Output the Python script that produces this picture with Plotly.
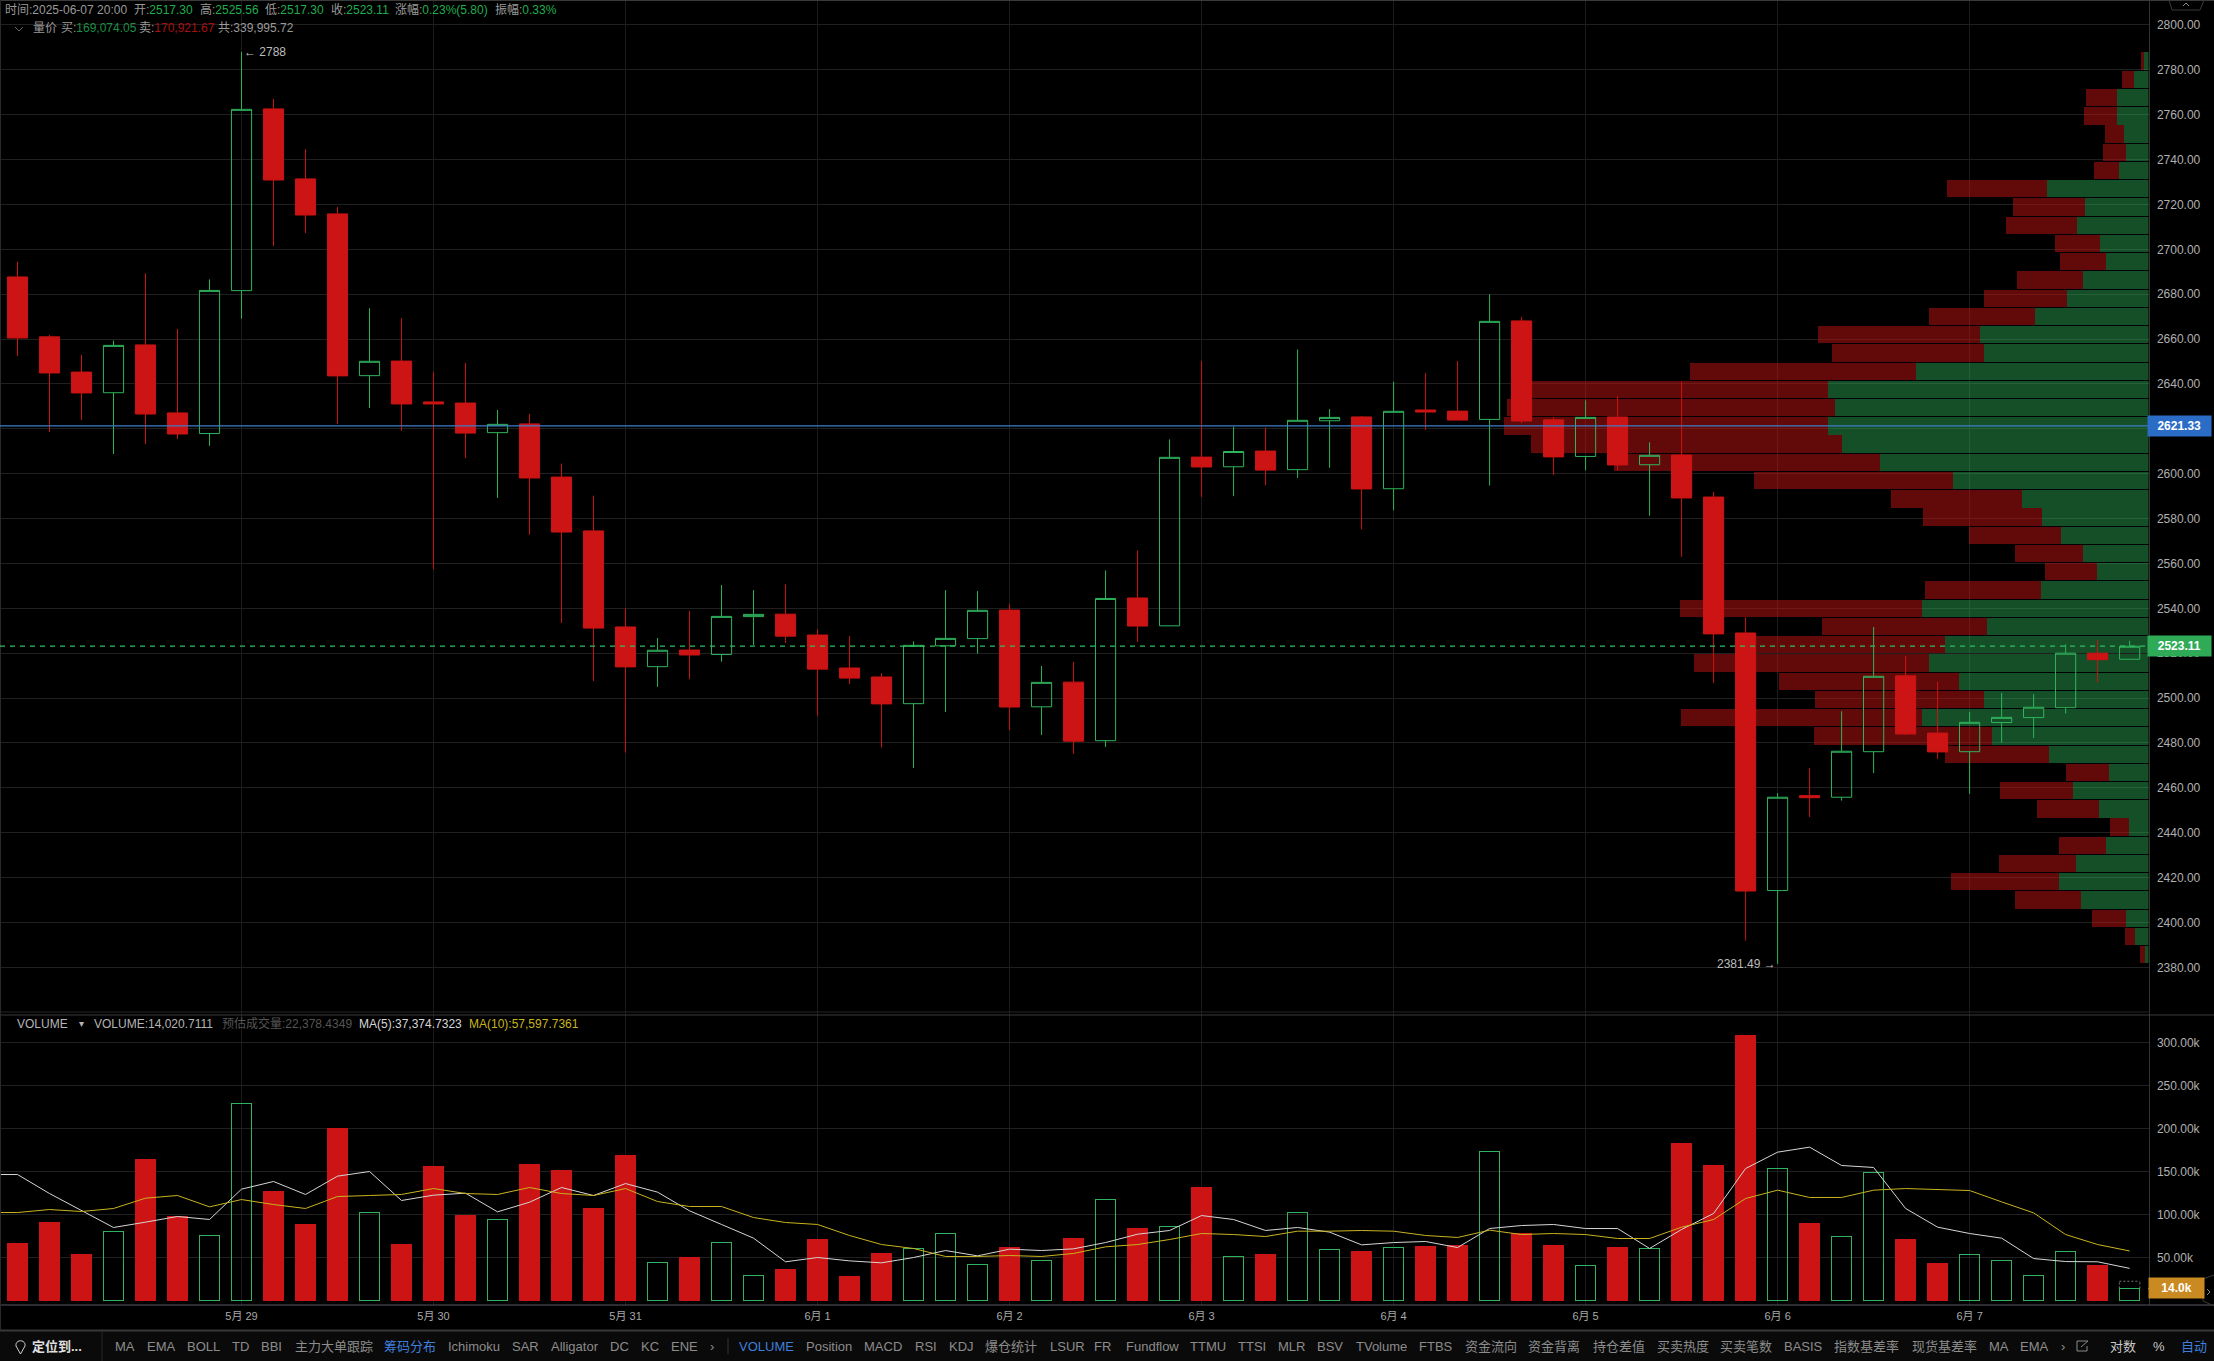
import plotly.graph_objects as go

W, H = 2214, 1361
FONT = "Liberation Sans, Arial, Noto Sans CJK SC, sans-serif"
UP, DOWN = "#2fb35c", "#cc1414"

OPEN = [2687.7,2661.0,2645.3,2636.1,2657.4,2627.1,2617.9,2681.6,2762.6,2731.4,2715.8,2643.7,2650.2,2632.0,2631.5,2618.3,2622.2,2598.5,2574.5,2531.7,2514.0,2521.4,2519.4,2536.3,2537.4,2528.1,2513.4,2509.4,2497.5,2523.3,2526.5,2539.2,2496.1,2507.1,2481.0,2544.6,2532.2,2607.4,2603.1,2610.1,2601.8,2623.6,2625.3,2593.3,2628.4,2627.9,2624.2,2668.1,2624.0,2607.7,2625.3,2604.0,2608.3,2589.6,2529.0,2414.2,2456.5,2455.8,2476.1,2509.9,2484.4,2476.1,2489.1,2491.3,2495.7,2520.0,2517.3]
HIGH = [2694.5,2661.8,2652.9,2659.3,2689.3,2664.5,2686.6,2788.0,2767.0,2744.6,2718.9,2673.7,2669.3,2645.3,2649.3,2628.4,2626.6,2604.5,2590.2,2540.0,2526.8,2538.8,2550.4,2548.1,2550.7,2530.6,2527.6,2511.1,2525.3,2548.1,2547.7,2541.9,2514.3,2516.1,2556.9,2565.8,2615.3,2650.2,2620.9,2620.5,2655.4,2628.8,2625.7,2641.0,2644.9,2650.2,2680.0,2669.9,2625.3,2632.7,2634.5,2614.0,2641.0,2591.9,2536.0,2457.6,2468.8,2494.1,2531.7,2518.8,2507.3,2493.8,2502.3,2501.7,2524.0,2525.9,2525.56]
LOW = [2652.5,2618.6,2624.0,2608.8,2613.2,2615.5,2612.4,2669.1,2701.5,2707.3,2622.2,2629.3,2619.2,2557.4,2607.0,2589.2,2572.8,2533.5,2507.6,2475.7,2505.0,2508.4,2516.2,2523.6,2524.5,2492.1,2506.2,2478.0,2468.8,2493.8,2519.8,2485.7,2483.5,2475.2,2478.2,2525.0,2532.2,2589.6,2590.0,2594.9,2598.1,2602.7,2575.2,2583.7,2619.5,2623.9,2594.7,2622.5,2599.4,2601.5,2601.4,2581.3,2563.0,2506.7,2391.9,2381.49,2447.0,2454.3,2466.6,2483.6,2472.9,2457.3,2480.1,2482.2,2493.1,2506.9,2517.3]
CLOSE = [2660.5,2644.9,2636.0,2657.2,2626.6,2617.7,2681.7,2762.4,2730.9,2715.3,2643.6,2650.1,2631.1,2631.1,2618.1,2622.0,2598.1,2574.0,2531.2,2513.9,2521.3,2519.2,2536.4,2537.3,2527.6,2512.9,2508.9,2497.4,2523.5,2526.6,2539.1,2496.0,2507.0,2480.8,2544.4,2532.1,2607.3,2603.0,2609.9,2601.6,2623.8,2625.1,2593.2,2627.8,2627.5,2623.9,2667.9,2623.5,2607.5,2625.1,2603.9,2608.2,2589.2,2528.6,2414.0,2455.8,2455.6,2476.3,2509.7,2484.0,2476.0,2489.2,2491.4,2495.9,2520.0,2517.1,2523.11]
VOLUME_K = [66.7,91.1,53.9,80.2,164.3,98.1,75.6,229.1,127.1,88.8,200.4,102.3,65.5,156.2,99.2,94.2,158.5,151.5,107.4,169.0,44.2,50.4,67.4,29.1,36.4,71.3,28.3,55.0,60.5,77.9,41.9,62.0,46.5,72.5,117.4,84.1,86.0,131.8,51.2,53.9,102.3,59.3,57.4,61.6,63.2,64.0,173.3,77.9,64.3,40.7,62.0,60.5,182.9,157.4,308.5,153.5,89.9,74.4,148.8,71.3,43.4,53.5,46.5,29.1,57.0,41.1,14.02]
PREDICTED_K = 22.38
MA5_K = [146.5,146.5,124.4,105.0,84.9,91.1,97.7,94.2,129.5,138.4,123.3,144.6,150.0,116.3,122.5,124.8,103.1,114.3,131.4,122.1,136.0,126.0,104.3,88.4,72.5,45.0,50.0,46.1,43.8,50.0,58.1,51.9,59.7,58.1,60.1,67.4,77.1,81.4,98.8,94.2,81.4,84.9,79.5,64.7,67.4,68.6,61.6,83.7,87.2,88.4,83.7,83.7,60.5,82.6,101.2,153.5,172.5,178.3,157.0,154.7,107.0,85.3,77.9,72.5,48.8,45.3,45.0,37.37]
MA10_K = [102.3,102.3,105.8,103.5,107.0,119.0,122.1,108.9,117.4,111.6,107.0,120.9,122.1,123.3,130.2,124.4,123.3,131.4,124.4,122.1,130.2,115.1,109.3,109.3,96.5,90.7,88.4,75.6,65.1,60.5,51.2,51.2,52.3,51.2,54.7,62.4,65.1,70.9,77.9,76.7,74.4,80.6,80.6,81.4,80.6,75.6,73.3,81.8,76.7,77.9,76.7,72.1,72.1,85.3,94.2,118.6,128.3,119.8,119.8,128.3,130.2,129.1,127.9,114.7,101.9,76.7,65.1,57.6]

PROFILE_PRICE = [2783.9,2775.8,2767.6,2759.5,2751.4,2743.2,2735.1,2727.0,2718.9,2710.7,2702.6,2694.5,2686.3,2678.2,2670.1,2662.0,2653.8,2645.7,2637.6,2629.4,2621.3,2613.2,2605.1,2596.9,2588.8,2580.7,2572.5,2564.4,2556.3,2548.2,2540.0,2531.9,2523.8,2515.6,2507.5,2499.4,2491.3,2483.1,2475.0,2466.9,2458.7,2450.6,2442.5,2434.4,2426.2,2418.1,2410.0,2401.8,2393.7,2385.6]
PROFILE_BUY = [4.7,14.5,31.4,31.4,24.3,22.5,29.5,101.6,63.7,71.6,48.7,42.6,65.5,81.5,113.3,168.5,164.3,232.7,320.7,313.7,320.7,306.7,268.7,195.7,126.4,106.3,87.6,65.5,51.5,107.7,226.6,161.5,203.7,219.6,189.6,164.3,226.6,156.4,99.3,39.3,75.4,49.6,19.7,42.6,72.6,89.4,67.4,22.5,13.6,3.3]
PROFILE_SELL = [2.8,12.2,30.9,33.2,19.2,22.9,24.8,99.7,71.6,70.7,44.9,45.9,66.0,82.9,106.3,162.0,152.2,225.7,312.8,327.7,324.0,310.9,265.9,199.0,131.1,119.4,91.8,67.9,52.0,115.6,242.1,164.8,195.7,235.0,179.8,169.0,241.1,177.9,104.4,43.1,73.0,61.8,18.7,46.8,76.8,108.2,66.0,34.2,9.8,5.2]

PRICE_TICKS = [2380,2400,2420,2440,2460,2480,2500,2520,2540,2560,2580,2600,2620,2640,2660,2680,2700,2720,2740,2760,2780,2800]
VOLUME_TICKS = [50,100,150,200,250,300]
VOLUME_TICK_TEXT = ["50.00k","100.00k","150.00k","200.00k","250.00k","300.00k"]
DATE_TICKS = [7,13,19,25,31,37,43,49,55,61]
DATE_LABELS = ["5月 29","5月 30","5月 31","6月 1","6月 2","6月 3","6月 4","6月 5","6月 6","6月 7"]
LAST_PRICE, MARK_PRICE, LAST_VOL = 2523.11, 2621.33, 14.02

INDEX = list(range(len(OPEN)))
MA_INDEX = [-1] + INDEX

AXIS_R = 2148.5
PX = lambda v: v / W
PY = lambda v: 1 - v / H
dom_x = [0, PX(AXIS_R)]
XR = [-0.547, 66.59]

fig = go.Figure()
fig.add_trace(go.Bar(y=PROFILE_PRICE, x=PROFILE_BUY, orientation="h", width=7.72, xaxis="x", yaxis="y",
                     marker=dict(color="rgba(47,179,92,0.44)", line_width=0), hoverinfo="skip"))
fig.add_trace(go.Bar(y=PROFILE_PRICE, x=PROFILE_SELL, orientation="h", width=7.72, xaxis="x", yaxis="y",
                     marker=dict(color="rgba(204,20,20,0.48)", line_width=0), hoverinfo="skip"))
fig.add_trace(go.Candlestick(x=INDEX, open=OPEN, high=HIGH, low=LOW, close=CLOSE, xaxis="x2", yaxis="y",
                             increasing=dict(line=dict(color=UP, width=1), fillcolor="rgba(0,0,0,0)"),
                             decreasing=dict(line=dict(color=DOWN, width=1), fillcolor=DOWN)))
is_up = [c >= o for o, c in zip(OPEN, CLOSE)]
fig.add_trace(go.Bar(x=INDEX, y=VOLUME_K, width=0.63, xaxis="x3", yaxis="y2",
                     marker=dict(color=["rgba(0,0,0,0)" if u else DOWN for u in is_up],
                                 line=dict(color=[UP if u else DOWN for u in is_up], width=1))))
fig.add_trace(go.Scatter(x=MA_INDEX, y=MA5_K, mode="lines", xaxis="x3", yaxis="y2", line=dict(color="#d6d6d6", width=1)))
fig.add_trace(go.Scatter(x=MA_INDEX, y=MA10_K, mode="lines", xaxis="x3", yaxis="y2", line=dict(color="#c9b41e", width=1)))

GRID = "#202020"
VGRID = "#1b1b1b"
tick_font = dict(family=FONT, size=12, color="#b0b0b0")
date_font = dict(family=FONT, size=11, color="#a8a8a8")
layout_axes = dict(
    xaxis=dict(domain=dom_x, range=[AXIS_R, 0], anchor="y", visible=False, fixedrange=True, rangeslider=dict(visible=False)),
    xaxis2=dict(domain=dom_x, range=XR, overlaying="x", anchor="y", tickmode="array", tickvals=DATE_TICKS,
                ticktext=[""] * len(DATE_TICKS), showgrid=True, gridcolor=VGRID, gridwidth=1, zeroline=False,
                showline=False, ticks="", rangeslider=dict(visible=False)),
    xaxis3=dict(domain=dom_x, range=XR, anchor="y2", tickmode="array", tickvals=DATE_TICKS, ticktext=DATE_LABELS,
                showgrid=True, gridcolor=VGRID, gridwidth=1, zeroline=False, showline=False,
                ticks="outside", ticklen=1, tickcolor="rgba(0,0,0,0)", tickfont=date_font),
    yaxis=dict(domain=[PY(1015), 1], range=[2358.74, 2811.14], anchor="x", side="right", tickmode="array",
               tickvals=PRICE_TICKS, ticktext=[f"{v}.00" for v in PRICE_TICKS], showgrid=True, gridcolor=GRID,
               zeroline=False, showline=True, linecolor="#333333", ticks="outside", ticklen=5,
               tickcolor="rgba(0,0,0,0)", tickfont=tick_font),
    yaxis2=dict(domain=[PY(1305), PY(1015)], range=[-5.23, 332], anchor="x3", side="right", tickmode="array",
                tickvals=VOLUME_TICKS, ticktext=VOLUME_TICK_TEXT, showgrid=True, gridcolor=GRID, zeroline=False,
                showline=True, linecolor="#333333", ticks="outside", ticklen=5, tickcolor="rgba(0,0,0,0)",
                tickfont=tick_font),
)

def hline(y, x0=0, x1=W, color="#333", width=1):
    return dict(type="line", xref="paper", yref="paper", x0=PX(x0), x1=PX(x1), y0=PY(y), y1=PY(y),
                line=dict(color=color, width=width), layer="above")

shapes = [
    dict(type="rect", xref="paper", yref="paper", x0=0, x1=1, y0=0, y1=PY(1331), fillcolor="#0a0a0a", line_width=0, layer="above"),
    hline(1330.5, color="#383838", width=2),
    hline(0.5, color="#3a3a3a", width=1),
    hline(1012, x1=AXIS_R, color="#242424"),
    hline(1015, color="#3a3a3a"),
    hline(1305, x1=W, color="#565660"),
    dict(type="line", xref="paper", yref="paper", x0=PX(0.5), x1=PX(0.5), y0=PY(1330), y1=1, line=dict(color="#2a2a2a", width=1), layer="above"),
    dict(type="line", xref="paper", yref="paper", x0=PX(102), x1=PX(102), y0=PY(1331), y1=0, line=dict(color="#262626", width=1), layer="above"),
    dict(type="line", xref="paper", yref="paper", x0=PX(728), x1=PX(728), y0=PY(1338), y1=PY(1354), line=dict(color="#333333", width=1), layer="above"),
    # price lines
    dict(type="line", xref="paper", yref="y", x0=0, x1=PX(AXIS_R), y0=MARK_PRICE, y1=MARK_PRICE, line=dict(color="#3f7cc8", width=1.2), layer="above"),
    dict(type="line", xref="paper", yref="y", x0=0, x1=PX(AXIS_R), y0=LAST_PRICE, y1=LAST_PRICE, line=dict(color="#2fbf60", width=1.2, dash="5px,5px"), layer="above"),
    # predicted volume outline (top edge of estimate)
    dict(type="line", xref="x3", yref="y2", x0=INDEX[-1] - 0.32, x1=INDEX[-1] + 0.32, y0=PREDICTED_K, y1=PREDICTED_K,
         line=dict(color="#777777", width=1, dash="2px,2px"), layer="above"),
    dict(type="line", xref="x3", yref="y2", x0=INDEX[-1] - 0.32, x1=INDEX[-1] - 0.32, y0=VOLUME_K[-1], y1=PREDICTED_K,
         line=dict(color="#777777", width=1, dash="2px,2px"), layer="above"),
    dict(type="line", xref="x3", yref="y2", x0=INDEX[-1] + 0.32, x1=INDEX[-1] + 0.32, y0=VOLUME_K[-1], y1=PREDICTED_K,
         line=dict(color="#777777", width=1, dash="2px,2px"), layer="above"),
    # top tab and chevrons
    dict(type="path", xref="paper", yref="paper", line=dict(color="#3a3a3a", width=1),
         path=f"M {PX(2169)} {PY(0)} L {PX(2172)} {PY(10)} L {PX(2200)} {PY(10)} L {PX(2204)} {PY(0)}"),
    dict(type="path", xref="paper", yref="paper", line=dict(color="#8a8a8a", width=1),
         path=f"M {PX(2183)} {PY(6)} L {PX(2186)} {PY(3)} L {PX(2189)} {PY(6)}"),
    dict(type="path", xref="paper", yref="paper", line=dict(color="#666666", width=1),
         path=f"M {PX(15)} {PY(27)} L {PX(19)} {PY(31)} L {PX(23)} {PY(27)}"),
    # right notch on the volume pane
    dict(type="path", xref="paper", yref="paper", line=dict(color="#3a3a3a", width=1), layer="above",
         path=f"M {PX(2214)} {PY(1275)} L {PX(2203)} {PY(1279)} L {PX(2203)} {PY(1301)} L {PX(2214)} {PY(1306)}"),
    dict(type="path", xref="paper", yref="paper", line=dict(color="#8a8a8a", width=1), layer="above",
         path=f"M {PX(2207)} {PY(1289)} L {PX(2210)} {PY(1292)} L {PX(2207)} {PY(1295)}"),
    # edit icon in toolbar
    dict(type="path", xref="paper", yref="paper", line=dict(color="#8a8a8a", width=1), layer="above",
         path=f"M {PX(2088)} {PY(1341)} L {PX(2077)} {PY(1341)} L {PX(2077)} {PY(1351)} L {PX(2087)} {PY(1351)} L {PX(2087)} {PY(1346)} M {PX(2081)} {PY(1347)} L {PX(2088)} {PY(1341)}"),
    # locate pin
    dict(type="path", xref="paper", yref="paper", line=dict(color="#d0d0d0", width=1), layer="above",
         path=f"M {PX(20.5)} {PY(1354)} L {PX(16)} {PY(1346)} C {PX(15)} {PY(1339)} {PX(26)} {PY(1339)} {PX(25)} {PY(1346)} Z"),
]

ann = []
def label(x, y, text, color="#9a9a9a", size=12, anchor="left", **kw):
    ann.append(dict(xref="paper", yref="paper", x=PX(x - 1), y=PY(y), text=text, showarrow=False, xanchor=anchor,
                    yanchor="middle", borderpad=0, font=dict(family=FONT, size=size, color=color), **kw))

G = "#1fae4e"
def kv(k, v, c=G):
    return f'{k}<span style="color:{c}">{v}</span>'

label(5, 10, "时间:2025-06-07 20:00")
label(134, 10, kv("开:", "2517.30"))
label(199.5, 10, kv("高:", "2525.56"))
label(265, 10, kv("低:", "2517.30"))
label(331, 10, kv("收:", "2523.11"))
label(395, 10, kv("涨幅:", "0.23%(5.80)"))
label(495, 10, kv("振幅:", "0.33%"))
label(33, 28, "量价")
label(60.5, 28, kv("买:", "169,074.05", "#1d8f45"))
label(139, 28, kv("卖:", "170,921.67", "#a81010"))
label(218, 28, "共:339,995.72")

label(17, 1024, "VOLUME", "#b5b5b5")
label(79, 1024, "▾", "#b5b5b5", 10)
label(94, 1024, "VOLUME:14,020.7111", "#b5b5b5")
label(221.5, 1024, "预估成交量:22,378.4349", "#555555")
label(358.5, 1024, "MA(5):37,374.7323", "#d6d6d6")
label(468.5, 1024, "MA(10):57,597.7361", "#c9b41e")

ann.append(dict(xref="x2", yref="y", x=7, y=HIGH[7], text="← 2788", showarrow=False, xanchor="left", xshift=0,
                font=dict(family=FONT, size=12, color="#bdbdbd")))
ann.append(dict(xref="x2", yref="y", x=55, y=LOW[55], text="2381.49 →", showarrow=False, xanchor="right", xshift=0,
                font=dict(family=FONT, size=12, color="#bdbdbd")))

def tag(y, yref, text, color, x0, wid):
    ann.append(dict(xref="paper", yref=yref, x=PX(x0 + wid / 2), y=y, text=f"<b>{text}</b>", showarrow=False, xanchor="center",
                    yanchor="middle", width=wid, height=20, bgcolor=color, borderpad=0,
                    font=dict(family=FONT, size=12, color="#ffffff")))
    shapes.append(dict(type="line", xref="paper", yref=yref, x0=PX(x0), x1=PX(x0 + 5), y0=y, y1=y,
                       line=dict(color="#ffffff", width=1), layer="above"))

tag(LAST_PRICE, "y", "2523.11", "#2fab57", AXIS_R, 62.5)
tag(MARK_PRICE, "y", "2621.33", "#2a6cc6", AXIS_R, 62.5)
tag(LAST_VOL, "y2", "14.0k", "#c98a22", AXIS_R, 55)

TOOLBAR = [("MA",115),("EMA",146.6),("BOLL",186.6),("TD",232),("BBI",261),("主力大单跟踪",294.6),("筹码分布",384.4),
           ("Ichimoku",448),("SAR",512),("Alligator",550.7),("DC",610),("KC",640.5),("ENE",670.6),("›",710),
           ("VOLUME",739.4),("Position",806),("MACD",864),("RSI",914.8),("KDJ",949),("爆仓统计",985),("LSUR",1049.5),
           ("FR",1094),("Fundflow",1125.6),("TTMU",1190),("TTSI",1238),("MLR",1278),("BSV",1317),("TVolume",1356),
           ("FTBS",1419),("资金流向",1464.5),("资金背离",1528),("持仓差值",1593),("买卖热度",1657),("买卖笔数",1720),
           ("BASIS",1784),("指数基差率",1834),("现货基差率",1912),("MA",1989),("EMA",2020),("›",2060.6),("对数",2110),
           ("%",2153),("自动",2180.6)]
BLUE_ITEMS = {"筹码分布", "VOLUME", "自动"}
for t, x in TOOLBAR:
    c = "#3f7fdc" if t in BLUE_ITEMS else ("#c8c8c8" if t in ("对数", "%") else "#8c8c8c")
    label(x, 1346, t, c, 13)
label(32, 1346, "<b>定位到...</b>", "#e0e0e0", 13)

fig.update_layout(
    width=W, height=H, margin=dict(l=0, r=0, t=0, b=0, pad=0), autosize=False,
    paper_bgcolor="#000000", plot_bgcolor="#000000", showlegend=False, barmode="stack", boxgap=0.37, boxgroupgap=0,
    font=dict(family=FONT, color="#a8a8a8"), shapes=shapes, annotations=ann, **layout_axes,
)
fig.write_html("out.html", config=dict(displayModeBar=False),
               post_script="document.body.style.margin='0';document.body.style.background='#000';document.body.style.overflow='hidden';")
